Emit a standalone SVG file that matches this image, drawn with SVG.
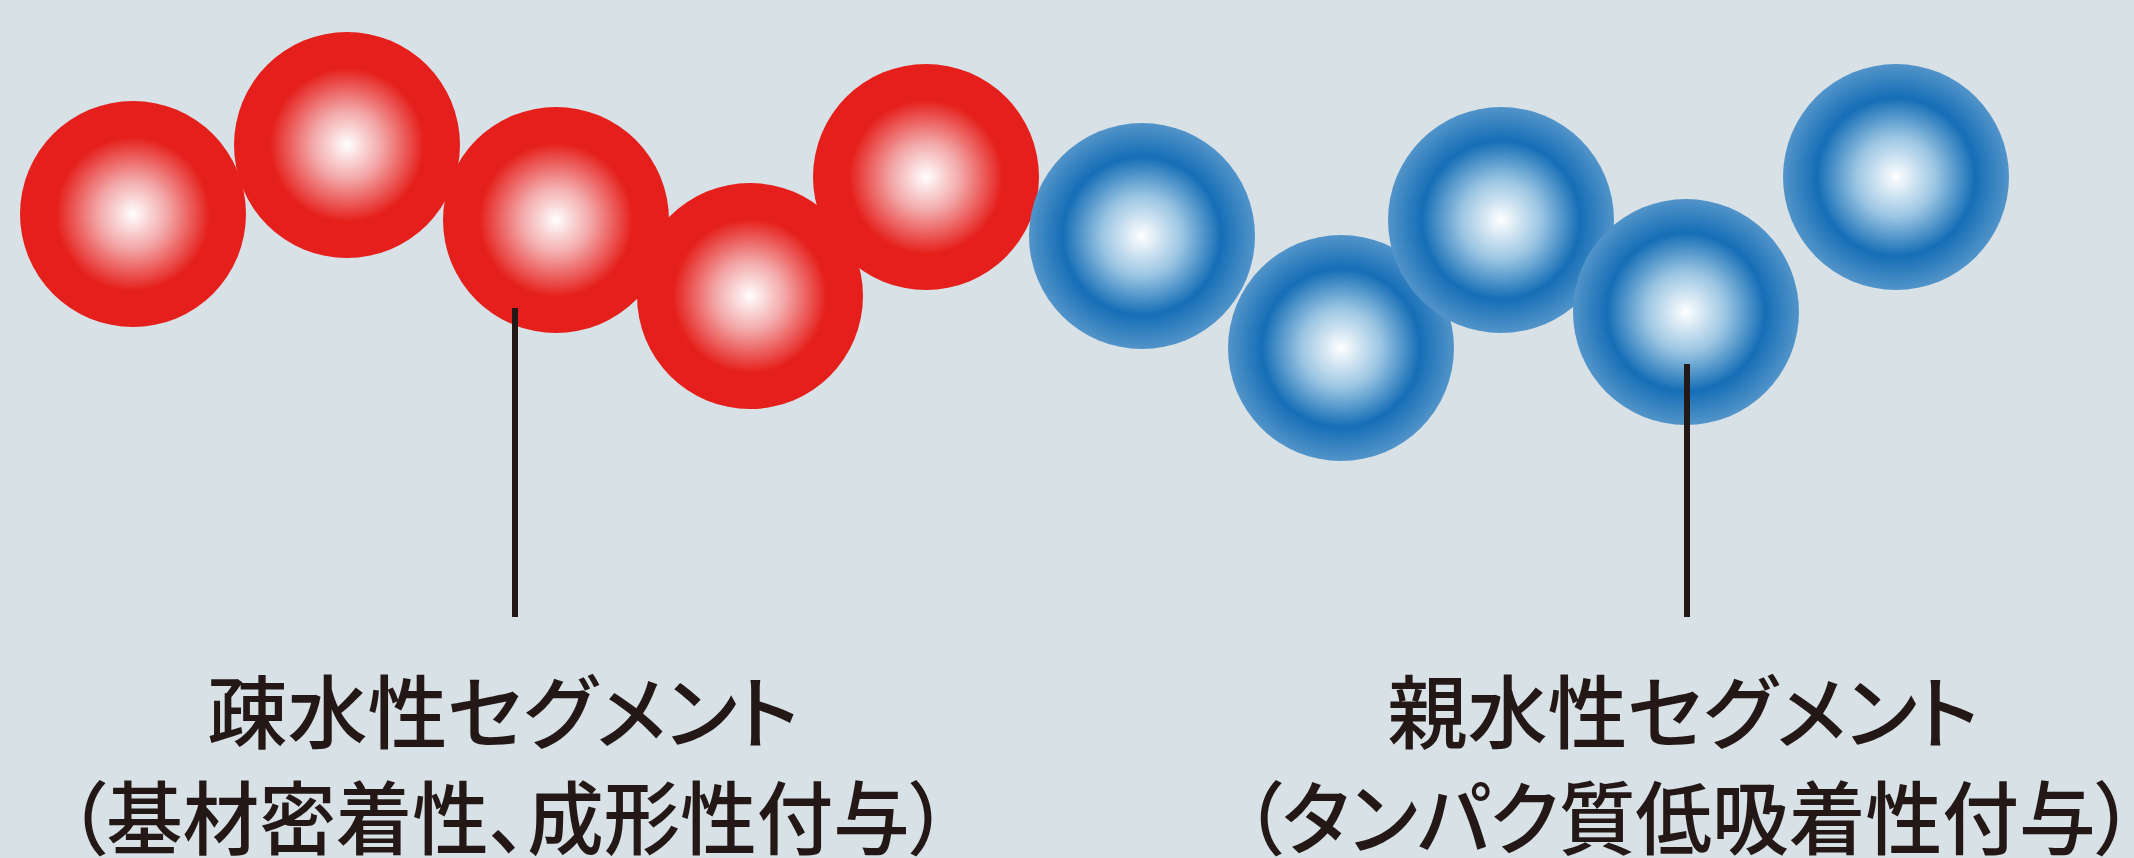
<svg xmlns="http://www.w3.org/2000/svg" width="2134" height="858" viewBox="0 0 2134 858">
<defs>
<radialGradient id="gRed" cx="0.5" cy="0.5" r="0.5">
<stop offset="0" stop-color="#FFFFFF"/>
<stop offset="0.3" stop-color="#F3A9AA"/>
<stop offset="0.68" stop-color="#E5201C"/>
<stop offset="1" stop-color="#E5201C"/>
</radialGradient>
<radialGradient id="gBlue" cx="0.5" cy="0.5" r="0.5">
<stop offset="0" stop-color="#FFFFFF"/>
<stop offset="0.35" stop-color="#9CC6E3"/>
<stop offset="0.7" stop-color="#156EB6"/>
<stop offset="1" stop-color="#5294C9"/>
</radialGradient>
</defs>
<style>
.red{fill:url(#gRed)}
.blue{fill:url(#gBlue)}
.lead{stroke:#231815;stroke-width:6;fill:none}
.lbl{font-family:"Noto Sans CJK JP","Noto Sans CJK SC",sans-serif;font-size:80px;font-weight:500;fill:#231815;text-anchor:middle;font-feature-settings:"palt"}
</style>
<rect width="2134" height="858" fill="#D8E1E6"/>
<g id="hydrophobic">
<circle id="r1" class="red" cx="133" cy="214" r="113"/>
<circle id="r2" class="red" cx="347" cy="145" r="113"/>
<circle id="r3" class="red" cx="556" cy="220" r="113"/>
<circle id="r4" class="red" cx="750" cy="296" r="113"/>
<circle id="r5" class="red" cx="926" cy="177" r="113"/>
</g>
<g id="hydrophilic">
<circle id="b1" class="blue" cx="1142" cy="236" r="113"/>
<circle id="b2" class="blue" cx="1341" cy="348" r="113"/>
<circle id="b3" class="blue" cx="1501" cy="220" r="113"/>
<circle id="b4" class="blue" cx="1686" cy="312" r="113"/>
<circle id="b5" class="blue" cx="1896" cy="177" r="113"/>
</g>
<g id="connectors">
<line class="lead" x1="515" y1="308" x2="515" y2="617"/>
<line class="lead" x1="1687" y1="364" x2="1687" y2="617"/>
</g>
<g id="label-hydrophobic">
<text class="lbl" x="503" y="742">疎水性セグメント</text>
<text class="lbl" x="508" y="848" textLength="880" lengthAdjust="spacingAndGlyphs">（基材密着性、成形性付与）</text>
</g>
<g id="label-hydrophilic">
<text class="lbl" x="1683" y="742">親水性セグメント</text>
<text class="lbl" x="1689" y="848" textLength="890" lengthAdjust="spacingAndGlyphs">（タンパク質低吸着性付与）</text>
</g>
</svg>
